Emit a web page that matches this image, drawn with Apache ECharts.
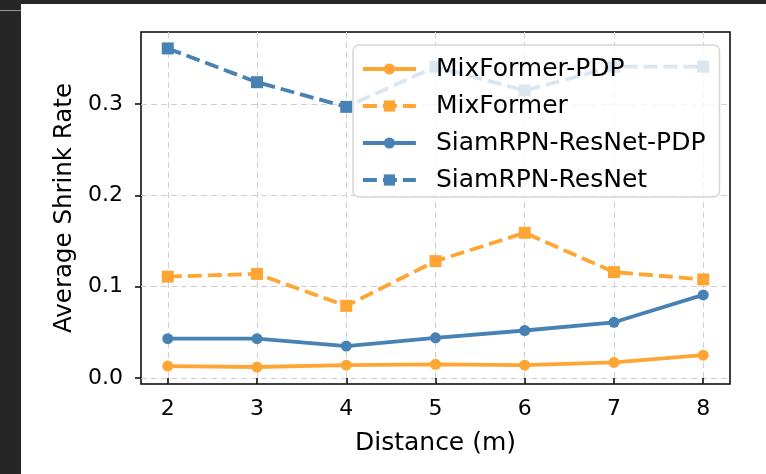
<!DOCTYPE html>
<html>
<head>
<meta charset="utf-8">
<script src="https://cdn.jsdelivr.net/npm/echarts@6/dist/echarts.min.js"></script>
<style>
html,body{margin:0;padding:0;background:#fff;}
#chart{width:766px;height:474px;}
</style>
</head>
<body>
<div id="chart"></div>
<script>
// ---- data ----
const distances = [2, 3, 4, 5, 6, 7, 8];
const mixformerPDP = [0.013, 0.012, 0.014, 0.015, 0.014, 0.017, 0.025];
const mixformer = [0.111, 0.114, 0.079, 0.128, 0.159, 0.116, 0.108];
const siamPDP = [0.043, 0.043, 0.035, 0.044, 0.052, 0.061, 0.091];
const siam = [0.361, 0.324, 0.297, 0.341, 0.315, 0.341, 0.341];
const seriesNames = ['MixFormer-PDP', 'MixFormer', 'SiamRPN-ResNet-PDP', 'SiamRPN-ResNet'];
const xTicks = [2, 3, 4, 5, 6, 7, 8];
const yTicks = [0.0, 0.1, 0.2, 0.3];

const ORANGE = '#ffa533';
const BLUE = '#4682b4';
const FONT = 'DejaVu Sans';

function pairs(ys) { return distances.map((x, i) => [x, ys[i]]); }

function mkSeries(name, ys, color, dashed, symbol) {
  return {
    name: name,
    type: 'line',
    data: pairs(ys),
    symbol: symbol,
    symbolSize: symbol === 'rect' ? 12 : 11,
    showSymbol: true,
    lineStyle: { color: color, width: 3.8, type: dashed ? [14, 6] : 'solid' },
    itemStyle: { color: color },
    emphasis: { disabled: true },
    animation: false
  };
}

const chart = echarts.init(document.getElementById('chart'), null, { renderer: 'canvas' });
chart.setOption({
  animation: false,
  backgroundColor: '#ffffff',
  textStyle: { fontFamily: FONT, color: '#000' },
  grid: {
    left: 141, top: 32, width: 589, height: 352,
    show: true, borderColor: '#000', borderWidth: 1.5, backgroundColor: 'transparent'
  },
  xAxis: {
    type: 'value',
    min: 1.7, max: 8.3,
    name: 'Distance (m)',
    nameLocation: 'middle',
    nameGap: 47,
    nameTextStyle: { fontSize: 25, fontFamily: FONT, color: '#000' },
    axisLine: { show: false },
    axisTick: { show: true, length: 6, lineStyle: { color: '#000', width: 1.5 }, customValues: xTicks },
    axisLabel: { fontSize: 22, fontFamily: FONT, color: '#000', margin: 14, customValues: xTicks,
      formatter: v => String(v) },
    splitLine: { show: true, lineStyle: { color: '#cfcfcf', width: 1, type: [6, 4] } }
  },
  yAxis: {
    type: 'value',
    min: -0.0066, max: 0.379,
    name: 'Average Shrink Rate',
    nameLocation: 'middle',
    nameRotate: 90,
    nameGap: 64,
    nameTextStyle: { fontSize: 24.5, fontFamily: FONT, color: '#000' },
    axisLine: { show: false },
    axisTick: { show: true, length: 6, lineStyle: { color: '#000', width: 1.5 }, customValues: yTicks },
    axisLabel: { fontSize: 22, fontFamily: FONT, color: '#000', margin: 18, customValues: yTicks,
      formatter: v => v.toFixed(1) },
    splitLine: { show: true, lineStyle: { color: '#cfcfcf', width: 1, type: [6, 4] } }
  },
  legend: {
    data: seriesNames,
    orient: 'vertical',
    left: 353, top: 45,
    padding: [11, 14, 4, 8],
    itemWidth: 53, itemHeight: 14,
    itemGap: 11,
    backgroundColor: 'rgba(255,255,255,0.8)',
    borderColor: '#d6d6d6', borderWidth: 1.5, borderRadius: 6,
    lineStyle: { width: 3.8 },
    textStyle: { fontSize: 25, fontFamily: FONT, color: '#000', lineHeight: 26, padding: [0, 0, 0, 15] },
    selectedMode: false,
    z: 10
  },
  series: [
    mkSeries(seriesNames[0], mixformerPDP, ORANGE, false, 'circle'),
    mkSeries(seriesNames[1], mixformer, ORANGE, true, 'rect'),
    mkSeries(seriesNames[2], siamPDP, BLUE, false, 'circle'),
    mkSeries(seriesNames[3], siam, BLUE, true, 'rect')
  ],
  graphic: [
    { type: 'rect', z: 100, shape: { x: 0, y: 0, width: 766, height: 4 }, style: { fill: '#262626' } },
    { type: 'rect', z: 100, shape: { x: 0, y: 0, width: 21, height: 474 }, style: { fill: '#262626' } },
    { type: 'rect', z: 101, shape: { x: 0, y: 10, width: 21, height: 1 }, style: { fill: '#9a9a9a' } }
  ]
});
</script>
</body>
</html>
